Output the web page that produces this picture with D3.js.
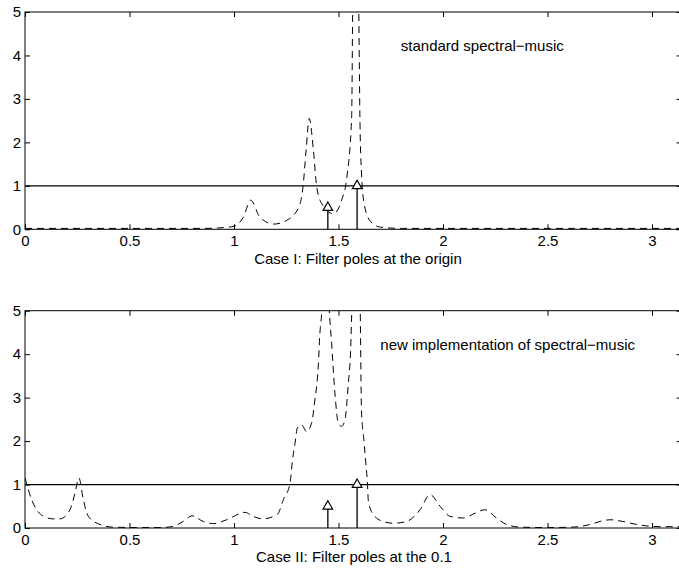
<!DOCTYPE html>
<html>
<head>
<meta charset="utf-8">
<script src="https://cdn.jsdelivr.net/npm/d3@7"></script>
<style>
  body { margin: 0; background: #fff; }
  svg { display: block; font-family: "Liberation Sans", Arial, sans-serif; }
  .axis text { font-size: 15px; fill: #000; }
  .axis line { stroke: #000; }
</style>
</head>
<body>
<script>
// tick labels
const xTicks = [0, 0.5, 1, 1.5, 2, 2.5, 3];
const yTicks = [0, 1, 2, 3, 4, 5];

// pole frequencies and magnitudes (the stems)
const poleFreqs = [1.449, 1.589];
const poleMags = [0.5, 1.0];

// Case I: filter poles at the origin
const caseOneW = [0, 0.3, 0.6, 0.85, 0.95, 1.0, 1.045, 1.08, 1.124, 1.19, 1.25, 1.31, 1.33, 1.345, 1.36, 1.38, 1.396, 1.42, 1.475, 1.515, 1.54, 1.563, 1.568, 1.58, 1.596, 1.603, 1.61, 1.62, 1.65, 1.7, 1.8, 2.2, 2.6, 3.0, Math.PI];
const caseOneP = [0.02, 0.02, 0.02, 0.02, 0.04, 0.07, 0.28, 0.67, 0.28, 0.12, 0.2, 0.51, 0.97, 1.82, 2.55, 1.82, 0.97, 0.59, 0.36, 0.67, 1.2, 2.6, 5.2, 9, 5.5, 2.4, 1.3, 0.67, 0.2, 0.05, 0.02, 0.02, 0.02, 0.02, 0.02];

// Case II: filter poles at 0.1
const caseTwoW = [0, 0.032, 0.088, 0.135, 0.167, 0.215, 0.239, 0.258, 0.279, 0.303, 0.359, 0.42, 0.55, 0.65, 0.71, 0.757, 0.8, 0.853, 0.9, 0.965, 1.053, 1.09, 1.14, 1.2, 1.212, 1.236, 1.268, 1.28, 1.292, 1.303, 1.324, 1.347, 1.371, 1.387, 1.403, 1.411, 1.419, 1.438, 1.456, 1.467, 1.483, 1.499, 1.515, 1.531, 1.547, 1.558, 1.563, 1.585, 1.604, 1.61, 1.622, 1.632, 1.638, 1.643, 1.667, 1.714, 1.762, 1.826, 1.89, 1.938, 1.986, 2.033, 2.097, 2.153, 2.2, 2.256, 2.304, 2.37, 2.5, 2.62, 2.703, 2.75, 2.8, 2.86, 2.927, 2.97, 3.05, Math.PI];
const caseTwoP = [1.15, 0.65, 0.27, 0.21, 0.21, 0.42, 0.8, 1.15, 0.65, 0.27, 0.08, 0.02, 0.01, 0.01, 0.04, 0.15, 0.28, 0.15, 0.1, 0.19, 0.36, 0.27, 0.21, 0.3, 0.34, 0.65, 1.03, 1.57, 1.95, 2.3, 2.37, 2.22, 2.41, 2.95, 3.7, 4.48, 4.9, 7, 5.0, 4.25, 3.1, 2.41, 2.34, 2.49, 3.33, 4.1, 4.9, 8, 5.0, 2.7, 2.0, 1.42, 1.07, 0.61, 0.31, 0.15, 0.11, 0.15, 0.42, 0.77, 0.5, 0.27, 0.23, 0.34, 0.42, 0.23, 0.08, 0.02, 0.01, 0.02, 0.08, 0.15, 0.19, 0.15, 0.08, 0.05, 0.03, 0.03];

const panels = [
  { top: 12, w: caseOneW, p: caseOneP, title: 'Case I: Filter poles at the origin', titleX: 333, titleY: 34.5,
    note: 'standard spectral\u2212music', noteX: 1.798, noteY: 38.5 },
  { top: 310.7, w: caseTwoW, p: caseTwoP, title: 'Case II: Filter poles at the 0.1', titleX: 329, titleY: 33.7,
    note: 'new implementation of spectral\u2212music', noteX: 1.70, noteY: 39.8 }
];

const W = 679, H = 568;
const left = 25;
const plotW = Math.PI * 209;
const plotH = 217.3;

const svg = d3.select('body').append('svg')
  .attr('width', W)
  .attr('height', H);

const x = d3.scaleLinear().domain([0, Math.PI]).range([0, plotW]);
const y = d3.scaleLinear().domain([0, 5]).range([plotH, 0]);

panels.forEach((pan, k) => {
  const g = svg.append('g').attr('transform', `translate(${left},${pan.top})`);

  g.append('clipPath').attr('id', 'clip' + k)
    .append('rect').attr('width', plotW).attr('height', plotH);

  // axes with inward ticks on all sides
  g.append('g').attr('class', 'axis')
    .attr('transform', `translate(0,${plotH})`)
    .call(d3.axisBottom(x).tickValues(xTicks).tickSize(-5).tickPadding(6.5).tickFormat(d3.format('')))
    .call(a => a.select('.domain').remove());
  g.append('g').attr('class', 'axis')
    .call(d3.axisTop(x).tickValues(xTicks).tickSize(-5).tickFormat(''))
    .call(a => a.select('.domain').remove());
  g.append('g').attr('class', 'axis')
    .call(d3.axisLeft(y).tickValues(yTicks).tickSize(-5).tickPadding(4).tickFormat(d3.format('d')))
    .call(a => a.select('.domain').remove());
  g.append('g').attr('class', 'axis')
    .attr('transform', `translate(${plotW},0)`)
    .call(d3.axisRight(y).tickValues(yTicks).tickSize(-5).tickFormat(''))
    .call(a => a.select('.domain').remove());

  g.append('rect')
    .attr('width', plotW)
    .attr('height', plotH)
    .attr('fill', 'none')
    .attr('stroke', '#000')
    .attr('stroke-width', 1);

  // unit threshold
  g.append('line')
    .attr('x1', 0).attr('x2', plotW)
    .attr('y1', y(1)).attr('y2', y(1))
    .attr('stroke', '#000')
    .attr('stroke-width', 1.3);

  const pts = pan.w.map((d, i) => [d, pan.p[i]]);
  const line = d3.line()
    .x(d => x(d[0]))
    .y(d => y(d[1]))
    .curve(d3.curveMonotoneX);

  g.append('path')
    .datum(pts)
    .attr('clip-path', `url(#clip${k})`)
    .attr('d', line)
    .attr('fill', 'none')
    .attr('stroke', '#000')
    .attr('stroke-width', 1)
    .attr('stroke-dasharray', '7,5');

  // stems
  const stems = g.selectAll('g.stem')
    .data(poleFreqs.map((f, i) => ({ f, m: poleMags[i] })))
    .enter().append('g')
    .attr('class', 'stem');
  stems.append('line')
    .attr('x1', d => x(d.f)).attr('x2', d => x(d.f))
    .attr('y1', y(0)).attr('y2', d => y(d.m))
    .attr('stroke', '#000')
    .attr('stroke-width', 1.3);
  stems.append('path')
    .attr('transform', d => `translate(${x(d.f)},${y(d.m)})`)
    .attr('d', d3.symbol(d3.symbolTriangle, 40))
    .attr('fill', '#fff')
    .attr('stroke', '#000')
    .attr('stroke-width', 1.2);

  g.append('text')
    .attr('x', x(pan.noteX))
    .attr('y', y(5) + pan.noteY)
    .attr('font-size', 15)
    .text(pan.note);

  g.append('text')
    .attr('x', pan.titleX)
    .attr('y', plotH + pan.titleY)
    .attr('text-anchor', 'middle')
    .attr('font-size', 15)
    .text(pan.title);
});
</script>
</body>
</html>
